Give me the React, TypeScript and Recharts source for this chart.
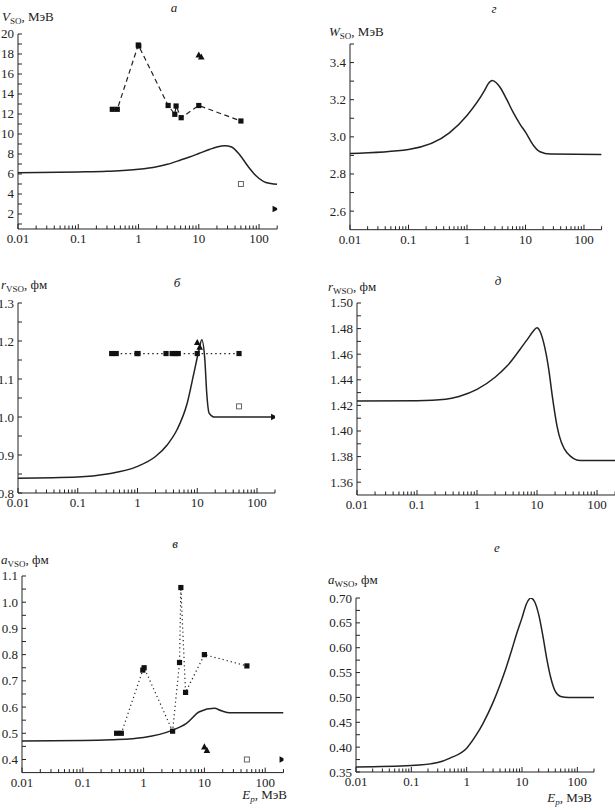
import React from 'react';
import { ComposedChart, Line, Scatter, XAxis, YAxis } from 'recharts';

const FONT = '"Liberation Serif", "Times New Roman", serif';
const INK = '#222';

// ---- x axis (log energy, MeV) ----
const xMajor = [0.01, 0.1, 1, 10, 100];
const xMinor = [
  0.02, 0.03, 0.04, 0.05, 0.06, 0.07, 0.08, 0.09,
  0.2, 0.3, 0.4, 0.5, 0.6, 0.7, 0.8, 0.9,
  2, 3, 4, 5, 6, 7, 8, 9,
  20, 30, 40, 50, 60, 70, 80, 90, 200,
];

// ---- panel а: V_SO ----
const vsoCurve = [[0.01, 6.13], [0.1, 6.2], [0.3, 6.27], [1, 6.47], [2, 6.73], [3, 6.97], [5, 7.4], [7, 7.7], [10, 8.05], [15, 8.45], [20, 8.7], [27, 8.83], [35, 8.7], [48, 7.9], [65, 6.8], [90, 5.8], [130, 5.15], [200, 4.97]];
const vsoSquares = [[0.367, 12.47], [0.444, 12.47], [0.99, 18.9], [1.01, 18.8], [3.1, 12.85], [4.0, 11.97], [4.2, 12.8], [5.1, 11.63], [10, 12.85], [50, 11.3]];
const vsoTri = [[10, 17.9], [11, 17.7]];
const vsoOpen = [[50, 5.0]];
const vsoRight = [[185, 2.5]];
const vsoYMajor = [2, 4, 6, 8, 10, 12, 14, 16, 18, 20];
const vsoYMinor = [1, 3, 5, 7, 9, 11, 13, 15, 17, 19];

// ---- panel г: W_SO ----
const wsoCurve = [[0.01, 2.91], [0.1, 2.932], [0.5, 3.021], [1, 3.115], [2, 3.25], [2.3, 3.285], [2.7, 3.303], [3.2, 3.29], [3.67, 3.267], [4.8, 3.2], [6.2, 3.13], [8, 3.07], [10, 3.025], [13.6, 2.955], [17.7, 2.92], [26.6, 2.907], [200, 2.905]];
const wsoYMajor = [2.6, 2.8, 3.0, 3.2, 3.4];
const wsoYMinor = [2.7, 2.9, 3.1, 3.3, 3.5];

// ---- panel б: r_VSO ----
const rvsoCurve = [[0.01, 0.839], [0.1, 0.842], [0.31, 0.85], [1, 0.87], [2, 0.896], [3.16, 0.927], [4.6, 0.967], [6.8, 1.037], [8.8, 1.116], [10.7, 1.177], [11.9, 1.203], [13.4, 1.15], [14.4, 1.063], [15.8, 1.01], [19, 1.0], [200, 1.0]];
const rvsoSquares = [[0.37, 1.167], [0.44, 1.167], [0.98, 1.167], [1.02, 1.167], [3.0, 1.167], [3.8, 1.167], [4.3, 1.167], [4.8, 1.167], [10, 1.167], [50, 1.167]];
const rvsoTri = [[10, 1.196], [11, 1.184]];
const rvsoOpen = [[50, 1.028]];
const rvsoRight = [[190, 1.0]];
const rvsoYMajor = [0.8, 0.9, 1.0, 1.1, 1.2, 1.3];
const rvsoYMinor = [0.85, 0.95, 1.05, 1.15, 1.25];

// ---- panel д: r_WSO ----
const rwsoCurve = [[0.01, 1.4234], [0.1, 1.4237], [0.3, 1.4248], [0.5, 1.427], [1, 1.4325], [2, 1.442], [3.16, 1.4507], [5.2, 1.4637], [7, 1.472], [8.5, 1.4775], [10, 1.4806], [11.3, 1.4775], [12.9, 1.469], [15.7, 1.448], [18, 1.427], [21.5, 1.404], [31.6, 1.383], [52, 1.377], [200, 1.377]];
const rwsoYMajor = [1.36, 1.38, 1.4, 1.42, 1.44, 1.46, 1.48, 1.5];
const rwsoYMinor = [1.37, 1.39, 1.41, 1.43, 1.45, 1.47, 1.49];

// ---- panel в: a_VSO ----
const avsoCurve = [[0.01, 0.471], [0.1, 0.472], [0.3, 0.475], [1, 0.484], [3, 0.512], [5, 0.537], [8.3, 0.582], [14.6, 0.595], [19, 0.586], [26, 0.578], [200, 0.578]];
const avsoSquares = [[0.36, 0.5], [0.43, 0.5], [0.97, 0.741], [1.02, 0.75], [3.0, 0.508], [3.9, 0.77], [4.1, 1.056], [4.9, 0.656], [10, 0.8], [50, 0.757]];
const avsoTri = [[10, 0.448], [11, 0.435]];
const avsoOpen = [[50, 0.4]];
const avsoRight = [[190, 0.4]];
const avsoYMajor = [0.4, 0.5, 0.6, 0.7, 0.8, 0.9, 1.0, 1.1];
const avsoYMinor = [0.45, 0.55, 0.65, 0.75, 0.85, 0.95, 1.05];

// ---- panel е: a_WSO ----
const awsoCurve = [[0.01, 0.36], [0.1, 0.363], [0.3, 0.369], [0.5, 0.378], [1, 0.398], [1.5, 0.425], [2, 0.449], [3, 0.49], [4, 0.525], [5, 0.555], [6.5, 0.595], [8, 0.628], [10, 0.66], [12, 0.688], [14.5, 0.7], [17, 0.692], [20, 0.667], [24, 0.622], [28, 0.578], [33, 0.54], [40, 0.512], [50, 0.502], [70, 0.5], [200, 0.5]];
const awsoYMajor = [0.35, 0.4, 0.45, 0.5, 0.55, 0.6, 0.65, 0.7];
const awsoYMinor = [0.375, 0.425, 0.475, 0.525, 0.575, 0.625, 0.675];

const toPts = (arr: number[][]) => arr.map(([x, y]) => ({ x, y }));
const isIn = (list: number[], v: number) => list.some((m) => Math.abs(m - v) < 1e-9);

function XTick(props: any) {
  const { x, y, payload } = props;
  const v = payload.value;
  const major = isIn(xMajor, v);
  return (
    <g>
      <line x1={x} x2={x} y1={y} y2={y - (major ? 5 : 3.5)} stroke={INK} strokeWidth={1} />
      {major && (
        <text x={x} y={y + 14} textAnchor="middle" fontFamily={FONT} fontSize={13} fill={INK}>
          {String(v)}
        </text>
      )}
    </g>
  );
}

function makeYTick(major: number[], dec: number) {
  return (props: any) => {
    const { x, y, payload } = props;
    const v = payload.value;
    const isMaj = isIn(major, v);
    return (
      <g>
        <line x1={x} x2={x + 4} y1={y} y2={y} stroke={INK} strokeWidth={1} />
        {isMaj && (
          <text x={x - 4} y={y} dy={4.5} textAnchor="end" fontFamily={FONT} fontSize={13} fill={INK}>
            {v.toFixed(dec)}
          </text>
        )}
      </g>
    );
  };
}

const FilledSquare = (p: any) => <rect x={p.cx - 2.6} y={p.cy - 2.6} width={5.2} height={5.2} fill="#111" />;
const OpenSquare = (p: any) => <rect x={p.cx - 2.5} y={p.cy - 2.5} width={5} height={5} fill="#fff" stroke="#666" strokeWidth={1} />;
const TriUp = (p: any) => <polygon points={`${p.cx},${p.cy - 3.6} ${p.cx - 3.3},${p.cy + 2.6} ${p.cx + 3.3},${p.cy + 2.6}`} fill="#111" />;
const TriRight = (p: any) => <polygon points={`${p.cx + 3.6},${p.cy} ${p.cx - 2.6},${p.cy - 3.3} ${p.cx - 2.6},${p.cy + 3.3}`} fill="#111" />;

type Box = { x0: number; x1: number; y0: number; y1: number };

function Panel(props: {
  box: Box;
  yDomain: [number, number];
  yMajor: number[];
  yMinor: number[];
  yDec: number;
  curve: number[][];
  squares?: number[][];
  sqDash?: string;
  tri?: number[][];
  open?: number[][];
  right?: number[][];
}) {
  const { box, yDomain, yMajor, yMinor, yDec, curve, squares, sqDash, tri, open, right } = props;
  const YW = 45, MT = 10, XH = 30, MR = 4;
  const width = box.x1 - box.x0 + YW + MR;
  const height = box.y1 - box.y0 + MT + XH;
  const yTicks = [...yMajor, ...yMinor].sort((a, b) => a - b);
  const xTicks = [...xMajor, ...xMinor].sort((a, b) => a - b);
  return (
    <div style={{ position: 'absolute', left: box.x0 - YW, top: box.y0 - MT }}>
      <ComposedChart width={width} height={height} margin={{ top: MT, right: MR, bottom: 0, left: 0 }}>
        <XAxis
          dataKey="x"
          type="number"
          scale="log"
          domain={[0.01, 200]}
          allowDataOverflow
          ticks={xTicks}
          interval={0}
          tick={XTick}
          tickLine={false}
          tickSize={0}
          tickMargin={0}
          height={XH}
          axisLine={{ stroke: INK, strokeWidth: 1 }}
        />
        <YAxis
          dataKey="y"
          type="number"
          domain={yDomain}
          allowDataOverflow
          ticks={yTicks}
          interval={0}
          tick={makeYTick(yMajor, yDec)}
          tickLine={false}
          tickSize={0}
          tickMargin={0}
          width={YW}
          axisLine={{ stroke: INK, strokeWidth: 1 }}
        />
        {squares && (
          <Scatter
            data={toPts(squares)}
            line={{ stroke: INK, strokeWidth: 1.2, strokeDasharray: sqDash }}
            lineType="joint"
            shape={FilledSquare}
            isAnimationActive={false}
          />
        )}
        {tri && <Scatter data={toPts(tri)} shape={TriUp} isAnimationActive={false} />}
        {open && <Scatter data={toPts(open)} shape={OpenSquare} isAnimationActive={false} />}
        <Line
          data={toPts(curve)}
          dataKey="y"
          type="monotone"
          stroke={INK}
          strokeWidth={1.5}
          dot={false}
          activeDot={false}
          isAnimationActive={false}
        />
        {right && <Scatter data={toPts(right)} shape={TriRight} isAnimationActive={false} />}
      </ComposedChart>
    </div>
  );
}

function YTitle({ x, y, sym, sub, unit }: { x: number; y: number; sym: string; sub: string; unit: string }) {
  return (
    <text x={x} y={y} fontFamily={FONT} fontSize={13} fill={INK}>
      <tspan fontStyle="italic">{sym}</tspan>
      <tspan fontSize={9} dy={3}>{sub}</tspan>
      <tspan dy={-3}>{`, ${unit}`}</tspan>
    </text>
  );
}

function XTitle({ x, y }: { x: number; y: number }) {
  return (
    <text x={x} y={y} fontFamily={FONT} fontSize={13} fill={INK} textAnchor="end">
      <tspan fontStyle="italic">E</tspan>
      <tspan fontSize={9} dy={3} fontStyle="italic">p</tspan>
      <tspan dy={-3}>, МэВ</tspan>
    </text>
  );
}

function Letter({ x, y, t }: { x: number; y: number; t: string }) {
  return (
    <text x={x} y={y} fontFamily={FONT} fontSize={13} fontStyle="italic" fill={INK} textAnchor="middle">
      {t}
    </text>
  );
}

export default function App() {
  return (
    <div style={{ position: 'absolute', left: 0, top: 0, width: 615, height: 810, background: '#fff', overflow: 'hidden' }}>
      <Panel box={{ x0: 17.5, x1: 276.7, y0: 34, y1: 229 }} yDomain={[0.5, 20]} yMajor={vsoYMajor} yMinor={vsoYMinor} yDec={0}
        curve={vsoCurve} squares={vsoSquares} sqDash="5 3.5" tri={vsoTri} open={vsoOpen} right={vsoRight} />
      <Panel box={{ x0: 350, x1: 601.6, y0: 44.3, y1: 230 }} yDomain={[2.5, 3.5]} yMajor={wsoYMajor} yMinor={wsoYMinor} yDec={1}
        curve={wsoCurve} />
      <Panel box={{ x0: 18, x1: 275, y0: 303.3, y1: 493.3 }} yDomain={[0.8, 1.3]} yMajor={rvsoYMajor} yMinor={rvsoYMinor} yDec={1}
        curve={rvsoCurve} squares={rvsoSquares} sqDash="1.5 3" tri={rvsoTri} open={rvsoOpen} right={rvsoRight} />
      <Panel box={{ x0: 356.7, x1: 614.8, y0: 303.3, y1: 495.3 }} yDomain={[1.35, 1.5]} yMajor={rwsoYMajor} yMinor={rwsoYMinor} yDec={2}
        curve={rwsoCurve} />
      <Panel box={{ x0: 22, x1: 283.5, y0: 575.7, y1: 772.3 }} yDomain={[0.35, 1.1]} yMajor={avsoYMajor} yMinor={avsoYMinor} yDec={1}
        curve={avsoCurve} squares={avsoSquares} sqDash="1.2 3" tri={avsoTri} open={avsoOpen} right={avsoRight} />
      <Panel box={{ x0: 356, x1: 594, y0: 598.3, y1: 772.3 }} yDomain={[0.35, 0.7]} yMajor={awsoYMajor} yMinor={awsoYMinor} yDec={2}
        curve={awsoCurve} />
      <svg width={615} height={810} style={{ position: 'absolute', left: 0, top: 0, pointerEvents: 'none' }}>
        <Letter x={174} y={12} t="а" />
        <YTitle x={2} y={21} sym="V" sub="SO" unit="МэВ" />
        <Letter x={494} y={13} t="г" />
        <YTitle x={329} y={36} sym="W" sub="SO" unit="МэВ" />
        <Letter x={177} y={287} t="б" />
        <YTitle x={1} y={289} sym="r" sub="VSO" unit="фм" />
        <Letter x={498} y={285} t="д" />
        <YTitle x={328} y={291} sym="r" sub="WSO" unit="фм" />
        <Letter x={175} y={548} t="в" />
        <YTitle x={1} y={564} sym="a" sub="VSO" unit="фм" />
        <XTitle x={287} y={799} />
        <Letter x={497} y={552} t="е" />
        <YTitle x={328} y={584} sym="a" sub="WSO" unit="фм" />
        <XTitle x={592} y={802} />
      </svg>
    </div>
  );
}
